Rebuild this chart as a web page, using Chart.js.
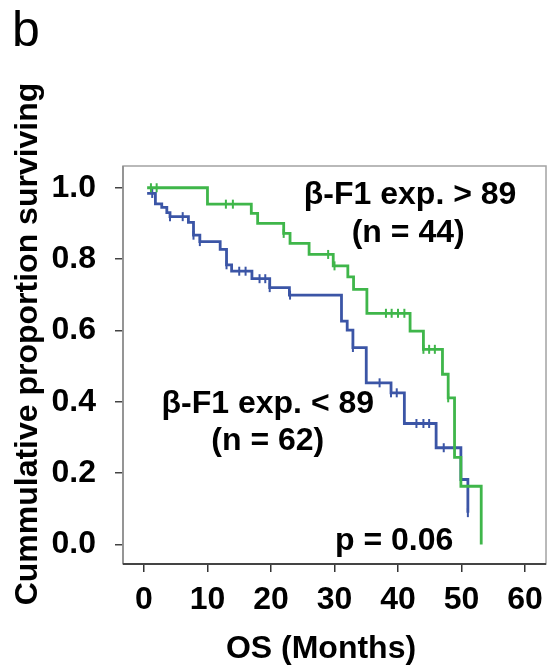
<!DOCTYPE html>
<html>
<head>
<meta charset="utf-8">
<script src="https://cdn.jsdelivr.net/npm/chart.js@4.4.1/dist/chart.umd.min.js"></script>
<style>
  body { margin: 0; background: #fff; }
  #wrap { width: 558px; height: 669px; }
</style>
</head>
<body>
<div id="wrap"><canvas id="chart" width="558" height="669"></canvas></div>
<script>
// survival steps (months, proportion after the drop)
const highT = [0.5, 10.0, 16.9, 17.9, 22.0, 23.0, 26.0, 29.8, 32.1, 33.0, 35.1, 41.9, 44.0, 47.0, 47.9, 48.9, 49.9, 53.1];
const highS = [1.0, 0.954, 0.928, 0.900, 0.872, 0.844, 0.813, 0.781, 0.750, 0.715, 0.648, 0.598, 0.547, 0.477, 0.411, 0.244, 0.163, 0.0];
const highCensT = [1.1, 2.0, 12.9, 14.0, 22.0, 29.0, 30.0, 38.1, 39.0, 40.0, 41.0, 44.0, 44.9, 45.8, 47.9];
const highCensS = [1.0, 1.0, 0.954, 0.954, 0.872, 0.813, 0.781, 0.648, 0.648, 0.648, 0.648, 0.547, 0.547, 0.547, 0.411];

const lowT = [0.5, 1.8, 2.8, 3.6, 4.1, 7.0, 7.8, 8.8, 12.0, 13.0, 13.8, 17.0, 19.8, 22.9, 31.1, 32.0, 32.9, 35.0, 38.9, 41.0, 46.0, 49.9, 51.0];
const lowS = [0.984, 0.955, 0.945, 0.930, 0.919, 0.903, 0.867, 0.849, 0.827, 0.784, 0.766, 0.745, 0.720, 0.699, 0.626, 0.601, 0.552, 0.453, 0.425, 0.339, 0.271, 0.182, 0.089];
const lowCensT = [1.3, 4.1, 6.1, 7.8, 8.8, 13.0, 15.0, 16.0, 18.2, 19.1, 19.8, 23.0, 32.9, 37.1, 38.9, 39.8, 42.9, 44.0, 44.9, 47.2, 51.0];
const lowCensS = [0.984, 0.919, 0.919, 0.867, 0.849, 0.784, 0.766, 0.766, 0.745, 0.745, 0.720, 0.699, 0.552, 0.453, 0.425, 0.425, 0.339, 0.339, 0.339, 0.271, 0.089];

const xTicks = [0, 10, 20, 30, 40, 50, 60];
const yTicks = [0.0, 0.2, 0.4, 0.6, 0.8, 1.0];

// labels placed in data units
const notes = [
  { text: 'β-F1 exp. > 89', x: 41.9, y: 0.980 },
  { text: '(n = 44)', x: 41.6, y: 0.873 },
  { text: 'β-F1 exp. < 89', x: 19.5, y: 0.393 },
  { text: '(n = 62)', x: 19.5, y: 0.290 },
  { text: 'p = 0.06', x: 39.4, y: 0.009 }
];

const GREEN = '#3fb64a';
const BLUE = '#3b55a6';
const FONT = '"Liberation Sans", Arial, sans-serif';

function pts(t, s) {
  return t.map((v, i) => ({ x: v, y: s[i] }));
}

const frame = {
  id: 'frame',
  beforeDatasetsDraw(chart) {
    const a = chart.chartArea, c = chart.ctx;
    c.save();
    c.strokeStyle = '#a3a3a3';
    c.lineWidth = 1.5;
    c.strokeRect(a.left, a.top, a.right - a.left, a.bottom - a.top);
    c.strokeStyle = '#8a8a8a';
    c.beginPath(); c.moveTo(a.left, a.top); c.lineTo(a.left, a.bottom); c.stroke();
    c.strokeStyle = '#444';
    c.lineWidth = 2;
    c.beginPath(); c.moveTo(a.left, a.bottom); c.lineTo(a.right, a.bottom); c.stroke();
    c.restore();
  },
  afterDraw(chart) {
    const c = chart.ctx, xs = chart.scales.x, ys = chart.scales.y;
    c.save();
    c.fillStyle = '#000';
    c.font = 'bold 32px ' + FONT;
    c.textAlign = 'center';
    c.textBaseline = 'middle';
    notes.forEach(n => c.fillText(n.text, xs.getPixelForValue(n.x), ys.getPixelForValue(n.y)));

    c.fillText('OS (Months)', 321, 649);
    c.save();
    c.translate(28, 344);
    c.rotate(-Math.PI / 2);
    c.fillText('Cummulative proportion surviving', 0, 0);
    c.restore();

    c.font = '50px ' + FONT;
    c.textAlign = 'left';
    c.textBaseline = 'alphabetic';
    c.fillText('b', 12, 46);
    c.restore();
  }
};

new Chart(document.getElementById('chart'), {
  type: 'line',
  data: {
    datasets: [
      { data: pts(highT, highS), borderColor: GREEN, borderWidth: 2.8, stepped: 'before', pointRadius: 0, fill: false },
      { type: 'scatter', data: pts(highCensT, highCensS), pointStyle: 'line', rotation: 90, pointRadius: 4.5, borderColor: GREEN, borderWidth: 2, showLine: false },
      { data: pts(lowT, lowS), borderColor: BLUE, borderWidth: 2.8, stepped: 'before', pointRadius: 0, fill: false },
      { type: 'scatter', data: pts(lowCensT, lowCensS), pointStyle: 'line', rotation: 90, pointRadius: 4.5, borderColor: BLUE, borderWidth: 2, showLine: false }
    ]
  },
  options: {
    responsive: false,
    animation: false,
    layout: { padding: { top: 166, right: 12, left: 0, bottom: 0 } },
    plugins: { legend: { display: false }, tooltip: { enabled: false } },
    scales: {
      x: {
        type: 'linear',
        min: -3.3,
        max: 63.3,
        afterBuildTicks: s => { s.ticks = xTicks.map(v => ({ value: v })); },
        afterFit: s => { s.height = 105; },
        grid: { drawOnChartArea: false, drawTicks: true, tickLength: 8, color: '#333', lineWidth: 1.5 },
        border: { display: false },
        ticks: { color: '#000', padding: 9, font: { family: FONT, size: 32, weight: 'bold' }, maxRotation: 0, callback: v => String(v) }
      },
      y: {
        type: 'linear',
        min: -0.055,
        max: 1.061,
        afterBuildTicks: s => { s.ticks = yTicks.map(v => ({ value: v })); },
        afterFit: s => { s.width = 123; },
        grid: { drawOnChartArea: false, drawTicks: true, tickLength: 8, color: '#444', lineWidth: 1.5 },
        border: { display: false },
        ticks: { color: '#000', padding: 19, font: { family: FONT, size: 32, weight: 'bold' }, callback: v => v.toFixed(1) }
      }
    }
  },
  plugins: [frame]
});
</script>
</body>
</html>
